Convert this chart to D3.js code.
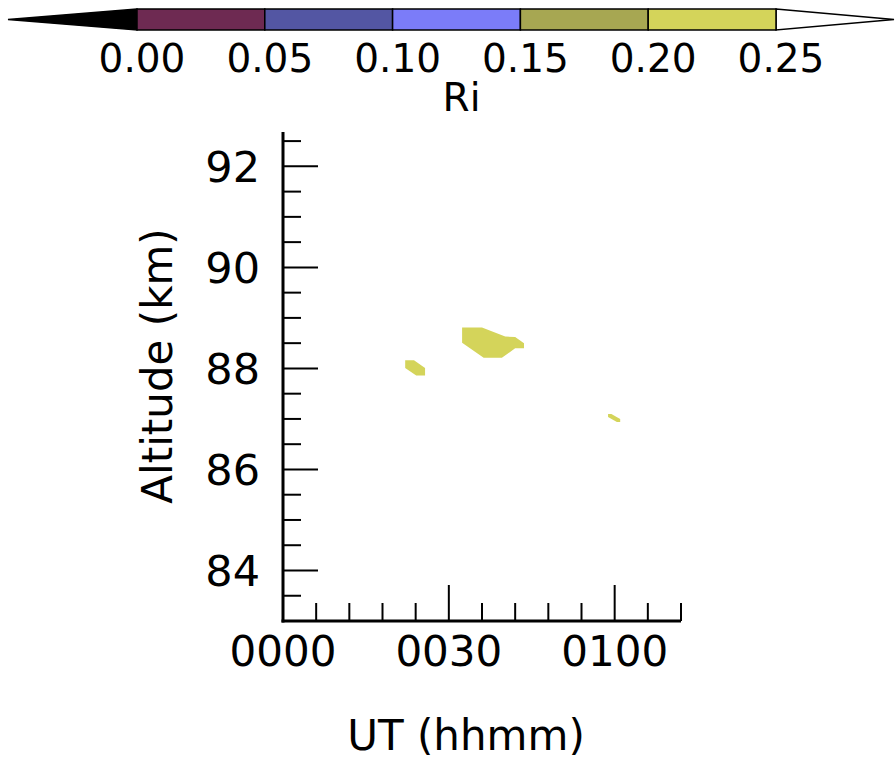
<!DOCTYPE html>
<html>
<head>
<meta charset="utf-8">
<script src="https://cdn.jsdelivr.net/npm/d3@7/dist/d3.min.js"></script>
<style>
  html, body { margin: 0; padding: 0; background: #fff; }
  svg { display: block; }
  text { font-family: "DejaVu Sans", sans-serif; fill: #000; }
</style>
</head>
<body>
<svg id="chart" width="895" height="759"></svg>
<script>
// ---- Data ----
const riBounds = [0.00, 0.05, 0.10, 0.15, 0.20, 0.25];
const riLabels = ["0.00", "0.05", "0.10", "0.15", "0.20", "0.25"];
const riColors = ["#6e2a52", "#5356a3", "#7b7cf9", "#a7a752", "#d4d45a"];
const riUnderColor = "#000000";
const riOverColor = "#ffffff";

const xTickValues = [0, 30, 60];           // minutes after 00 UT
const xTickLabels = ["0000", "0030", "0100"];
const yTickValues = [84, 86, 88, 90, 92];  // km

// Ri contour regions (0.20 <= Ri < 0.25): [minute, altitude km]
const blobRi = [0.22, 0.22, 0.22];
const blobA = [[32.4, 88.81], [36.0, 88.81], [40.2, 88.63], [42.0, 88.62], [43.6, 88.50],
               [43.6, 88.40], [42.0, 88.40], [39.6, 88.21], [36.3, 88.21], [32.4, 88.51]];
const blobB = [[22.1, 88.16], [23.7, 88.16], [25.7, 88.01], [25.7, 87.86], [24.1, 87.86], [22.1, 88.01]];
const blobC = [[58.8, 87.10], [59.4, 87.10], [61.0, 87.00], [61.0, 86.94], [60.4, 86.94], [58.8, 87.04]];
const blobs = [blobA, blobB, blobC];

// ---- Layout ----
const svg = d3.select("#chart");
const plot = { left: 283, right: 681, top: 132, bottom: 621 };

const x = d3.scaleLinear().domain([0, 72]).range([plot.left, plot.right]);
const y = d3.scaleLinear().domain([83, 92.68]).range([plot.bottom, plot.top]);

const color = d3.scaleThreshold()
  .domain(riBounds)
  .range([riUnderColor, ...riColors, riOverColor]);

// ---- Colorbar ----
const cb = { left: 137, right: 776, top: 9, bottom: 30, tipL: 8, tipR: 894 };
const cx = d3.scaleLinear().domain([riBounds[0], riBounds[riBounds.length - 1]]).range([cb.left, cb.right]);
const cmid = (cb.top + cb.bottom) / 2;
const cbG = svg.append("g");

cbG.append("path")
  .attr("d", `M${cb.left},${cb.top} L${cb.tipL},${cmid} L${cb.left},${cb.bottom} Z`)
  .attr("fill", riUnderColor).attr("stroke", "#000").attr("stroke-width", 1.5);
cbG.append("path")
  .attr("d", `M${cb.right},${cb.top} L${cb.tipR},${cmid} L${cb.right},${cb.bottom} Z`)
  .attr("fill", riOverColor).attr("stroke", "#000").attr("stroke-width", 1.5);

cbG.selectAll("rect.bin")
  .data(riColors)
  .join("rect")
  .attr("class", "bin")
  .attr("x", (d, i) => cx(riBounds[i]))
  .attr("y", cb.top)
  .attr("width", (d, i) => cx(riBounds[i + 1]) - cx(riBounds[i]))
  .attr("height", cb.bottom - cb.top)
  .attr("fill", (d, i) => color((riBounds[i] + riBounds[i + 1]) / 2))
  .attr("stroke", "#000")
  .attr("stroke-width", 1.5);

cbG.selectAll("text.cbl")
  .data(riLabels)
  .join("text")
  .attr("class", "cbl")
  .attr("x", (d, i) => cx(riBounds[i]) + 5)
  .attr("y", 72)
  .attr("text-anchor", "middle")
  .attr("font-size", 39)
  .text(d => d);

cbG.append("text")
  .attr("x", (cb.left + cb.right) / 2 + 5)
  .attr("y", 111)
  .attr("text-anchor", "middle")
  .attr("font-size", 39)
  .text("Ri");

// ---- Contour regions ----
svg.append("g")
  .selectAll("path")
  .data(blobs)
  .join("path")
  .attr("d", d => d3.line().x(p => x(p[0])).y(p => y(p[1]))(d) + "Z")
  .attr("fill", (d, i) => color(blobRi[i]))
  .attr("stroke", "none");

// ---- Axes ----
const axG = svg.append("g");

// minor/major y ticks (pointing inward / right)
const yMinor = d3.range(83.5, 92.6, 0.5).filter(v => !yTickValues.includes(v));
axG.selectAll("line.ymin").data(yMinor).join("line")
  .attr("x1", plot.left).attr("x2", plot.left + 18)
  .attr("y1", d => y(d)).attr("y2", d => y(d))
  .attr("stroke", "#000").attr("stroke-width", 2);
axG.selectAll("line.ymaj").data(yTickValues).join("line")
  .attr("x1", plot.left).attr("x2", plot.left + 35)
  .attr("y1", d => y(d)).attr("y2", d => y(d))
  .attr("stroke", "#000").attr("stroke-width", 2);

// x ticks (pointing up)
const xMinor = d3.range(6, 73, 6).filter(v => !xTickValues.includes(v));
axG.selectAll("line.xmin").data(xMinor).join("line")
  .attr("x1", d => x(d)).attr("x2", d => x(d))
  .attr("y1", plot.bottom).attr("y2", plot.bottom - 18)
  .attr("stroke", "#000").attr("stroke-width", 2);
axG.selectAll("line.xmaj").data(xTickValues.filter(v => v > 0)).join("line")
  .attr("x1", d => x(d)).attr("x2", d => x(d))
  .attr("y1", plot.bottom).attr("y2", plot.bottom - 36)
  .attr("stroke", "#000").attr("stroke-width", 2);

// axis lines
axG.append("line")
  .attr("x1", plot.left).attr("x2", plot.left)
  .attr("y1", plot.bottom + 1.5).attr("y2", plot.top)
  .attr("stroke", "#000").attr("stroke-width", 3);
axG.append("line")
  .attr("x1", plot.left - 1.5).attr("x2", plot.right)
  .attr("y1", plot.bottom).attr("y2", plot.bottom)
  .attr("stroke", "#000").attr("stroke-width", 3);

// tick labels
axG.selectAll("text.yl").data(yTickValues).join("text")
  .attr("class", "yl")
  .attr("x", 260)
  .attr("y", d => y(d))
  .attr("dy", "0.36em")
  .attr("text-anchor", "end")
  .attr("font-size", 43)
  .text(d => d);

axG.selectAll("text.xl").data(xTickValues).join("text")
  .attr("class", "xl")
  .attr("x", d => x(d))
  .attr("y", 666)
  .attr("text-anchor", "middle")
  .attr("font-size", 42)
  .text((d, i) => xTickLabels[i]);

// axis titles
svg.append("text")
  .attr("x", 466)
  .attr("y", 750)
  .attr("text-anchor", "middle")
  .attr("font-size", 42)
  .text("UT (hhmm)");

svg.append("text")
  .attr("transform", "translate(172,366) rotate(-90)")
  .attr("text-anchor", "middle")
  .attr("font-size", 42)
  .text("Altitude (km)");
</script>
</body>
</html>
